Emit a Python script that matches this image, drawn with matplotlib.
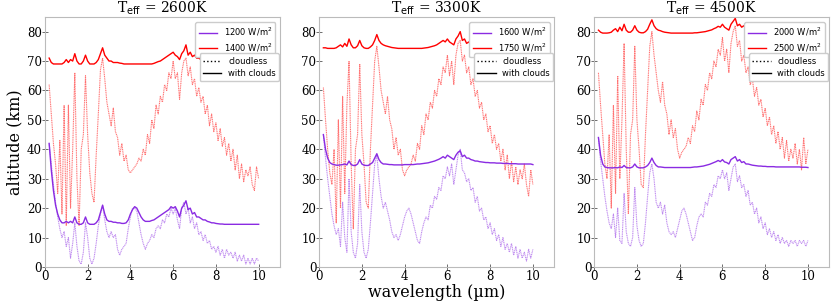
import numpy as np
import matplotlib
matplotlib.use('Agg')
from matplotlib import pyplot as plt
from matplotlib.lines import Line2D

# wavelength grid (micron), 0.2 .. 10.0
wl = np.round(np.arange(0.2, 10.05, 0.1), 2)

titles = ['2600K', '3300K', '4500K']
labels_purple = [r'1200 W/m$^2$', r'1600 W/m$^2$', r'2000 W/m$^2$']
labels_red = [r'1400 W/m$^2$', r'1750 W/m$^2$', r'2500 W/m$^2$']

# ---- Teff = 2600K ----
t2600_red_clear = [62, 52, 42, 35, 25, 43, 18, 55, 14, 55,
                   20, 40, 66, 30, 14, 40, 45, 65, 45, 32,
                   25, 22, 38, 52, 67, 71, 64, 56, 52, 48,
                   54, 46, 44, 38, 42, 36, 38, 33, 32, 33,
                   34, 35, 37, 36, 40, 38, 45, 42, 50, 47,
                   55, 52, 58, 56, 62, 60, 66, 64, 70, 64,
                   66, 57, 66, 70, 71, 65, 68, 62, 64, 58,
                   61, 56, 58, 52, 55, 48, 52, 46, 49, 43,
                   47, 41, 44, 38, 42, 36, 40, 33, 38, 30,
                   35, 29, 33, 31, 34, 28, 26, 34, 30]
t2600_red_cloud = [71, 69.5, 69, 69, 69, 69, 69, 69.5, 70.5, 69.5,
                   70.5, 70, 72.5, 70, 69, 69, 70, 72, 70, 69,
                   69, 69, 69.5, 70.5, 72.5, 74.5, 72, 71, 70, 70,
                   69.5, 69.5, 69.5, 69.3, 69.2, 69, 69, 69, 69, 69,
                   69, 69, 69, 69, 69, 69, 69, 69, 69, 69.2,
                   69.5, 69.8, 70, 70.5, 71, 71.5, 72, 72.5, 73, 72,
                   71.5, 70.5, 72.5, 73.5, 75.5, 72, 73, 71.5, 72, 71,
                   71, 70.5, 70.5, 70, 70, 69.5, 69.5, 69.5, 69.3, 69.2,
                   69.2, 69.1, 69.1, 69, 69, 69, 69, 69, 69, 69,
                   69, 69, 69, 69, 69, 69, 69, 69, 69]
t2600_purple_clear = [42, 35, 28, 22, 17, 13, 10, 12, 7, 10,
                      3, 8, 15, 7, 2, 1, 5, 15, 10, 3,
                      1, 3, 8, 14, 18, 21, 16, 12, 10, 12,
                      10, 11, 6, 4, 6, 7, 8, 13, 17, 20,
                      20, 19, 15, 11, 8, 6, 8, 9, 11, 10,
                      13, 14, 13, 16, 15, 18, 17, 20, 18, 20,
                      16, 13, 20, 22, 18, 20, 15, 17, 13, 15,
                      11, 12, 9, 11, 8, 9, 6, 7, 5, 7,
                      4, 6, 3, 6, 4, 5, 3, 5, 2, 4,
                      2, 4, 1, 3, 1, 3, 1, 3, 2]
t2600_purple_cloud = [42, 33, 26, 21, 18, 16, 15, 15, 15.5, 15,
                      15.5, 15, 17, 15, 14.5, 14.5, 15, 17, 15, 14.5,
                      14.5, 14.5, 15, 16, 18.5, 21, 18, 16, 15.5, 15.5,
                      15.2, 15.2, 15, 15, 14.8, 14.8, 15, 16, 18, 19.5,
                      20.5, 20, 18.5, 17, 16, 15.5, 15.5, 15.5, 15.8, 16,
                      16.5, 17, 17.5, 18, 18.5, 19, 19.5, 20.5, 20, 20.5,
                      19, 17, 20, 21, 22.5, 19.5, 20, 18, 18.5, 17,
                      17, 16.5, 16, 16, 15.5, 15.3, 15, 15, 14.8, 14.7,
                      14.6, 14.6, 14.5, 14.5, 14.5, 14.5, 14.5, 14.5, 14.5, 14.5,
                      14.5, 14.5, 14.5, 14.5, 14.5, 14.5, 14.5, 14.5, 14.5]

# ---- Teff = 3300K ----
t3300_red_clear = [61, 50, 40, 32, 28, 40, 15, 50, 20, 58,
                   25, 55, 70, 35, 13, 40, 45, 69, 45, 35,
                   22, 20, 40, 55, 70, 75, 68, 60, 56, 52,
                   58, 50, 47, 40, 44, 38, 40, 33, 31, 33,
                   34, 35, 38, 36, 42, 40, 48, 45, 52, 50,
                   56, 54, 60, 58, 64, 62, 68, 66, 72, 65,
                   70, 62, 72, 76, 77, 70, 72, 66, 68, 62,
                   64, 58, 60, 54, 56, 50, 52, 46, 48, 42,
                   45, 40, 42, 36, 40, 33, 38, 30, 36, 29,
                   34, 28, 33, 30, 35, 28, 24, 33, 28]
t3300_red_cloud = [74.5, 74.5, 74.3, 74.3, 74.3, 74.3, 74.5, 75, 75.5, 74.8,
                   76, 75, 77.5, 75.5, 74.5, 74.5, 75.2, 77, 75.2, 74.5,
                   74.3, 74.3, 74.8, 75.5, 77, 79, 77, 76, 75.5, 75.2,
                   75, 74.8, 74.6, 74.5, 74.4, 74.3, 74.3, 74.3, 74.3, 74.3,
                   74.3, 74.3, 74.3, 74.3, 74.3, 74.3, 74.3, 74.4, 74.5, 74.6,
                   74.8, 75, 75.2, 75.5, 76, 76.5, 77, 76.5, 77.5, 76.5,
                   76, 75.5, 77.5, 78.5, 80, 77, 77.5, 76, 76.5, 75.5,
                   75.5, 75.2, 75, 75, 74.8, 74.8, 74.7, 74.6, 74.6, 74.5,
                   74.5, 74.5, 74.5, 74.5, 74.5, 74.5, 74.5, 74.5, 74.5, 74.5,
                   74.5, 74.5, 74.5, 74.5, 74.5, 74.5, 74.5, 74.5, 74.5]
t3300_purple_clear = [45, 37, 30, 24, 18, 14, 11, 13, 7, 22,
                      10, 5, 30, 12, 5, 3, 8, 28, 12, 5,
                      3, 6, 15, 25, 35, 38, 30, 24, 20, 22,
                      19, 16, 12, 10, 11, 9, 11, 14, 17, 19,
                      20, 18, 15, 12, 9, 8, 12, 15, 17, 16,
                      21, 20, 24, 23, 27, 26, 31, 30, 34, 31,
                      35, 28, 33, 38, 40, 33, 32, 29, 30, 26,
                      27, 22, 24, 19, 20, 16, 17, 13, 15, 11,
                      13, 9, 11, 7, 10, 6, 8, 5, 8, 4,
                      7, 3, 6, 3, 5, 2, 6, 3, 6]
t3300_purple_cloud = [45, 40, 37, 35.5, 35, 34.8, 34.6, 34.6, 34.7, 34.8,
                      35, 34.7, 36, 34.8, 34.5, 34.5, 35, 36.5, 35, 34.6,
                      34.5, 34.5, 35, 35.5, 37, 38.5, 36.5, 35.5, 35, 35,
                      34.9, 34.8, 34.8, 34.7, 34.7, 34.7, 34.7, 34.7, 34.8, 34.8,
                      34.8, 34.8, 34.8, 34.9, 35, 35, 35.1, 35.2, 35.3, 35.4,
                      35.6, 35.8, 36, 36.3, 36.6, 37, 37.5, 37, 38, 37.5,
                      37, 36.5, 38, 39, 39.5, 37.5, 38, 37, 37, 36.5,
                      36.3, 36, 36, 35.8, 35.7, 35.6, 35.5, 35.5, 35.4, 35.4,
                      35.4, 35.3, 35.3, 35.3, 35.2, 35.2, 35.2, 35.1, 35.1, 35.1,
                      35.1, 35, 35, 35, 35, 35, 35, 35, 34.8]

# ---- Teff = 4500K ----
t4500_red_clear = [66, 55, 45, 35, 30, 45, 20, 55, 25, 65,
                   30, 50, 76, 40, 18, 45, 50, 75, 50, 40,
                   28, 27, 45, 60, 75, 80, 72, 66, 60, 56,
                   63, 55, 52, 45, 50, 44, 47, 40, 37, 39,
                   40, 41, 44, 42, 48, 46, 53, 50, 57, 55,
                   62, 60, 66, 64, 70, 68, 74, 72, 78, 70,
                   74, 66, 76, 80, 82, 75, 77, 70, 72, 66,
                   68, 62, 64, 58, 61, 55, 57, 51, 54, 48,
                   51, 45, 48, 42, 46, 40, 44, 37, 43, 36,
                   40, 37, 42, 35, 40, 33, 44, 35, 40]
t4500_red_cloud = [80.5, 79.8, 79.5, 79.5, 79.5, 79.6, 79.8, 80.5, 81, 80,
                   81.5, 80.3, 82.5, 80.5, 79.8, 79.8, 80.5, 82, 80.5, 79.8,
                   79.6, 79.6, 80, 80.8, 82.5, 84, 82, 81, 80.5, 80.3,
                   80, 79.8, 79.7, 79.6, 79.5, 79.5, 79.5, 79.5, 79.5, 79.5,
                   79.5, 79.5, 79.5, 79.5, 79.5, 79.6, 79.6, 79.7, 79.8, 79.9,
                   80, 80.2, 80.4, 80.6, 81, 81.3, 81.8, 81.5, 82.5, 81.5,
                   81, 80.5, 82.5, 83.5, 84.5, 82, 82.5, 81.5, 82, 81,
                   81, 80.7, 80.5, 80.4, 80.3, 80.2, 80.1, 80, 80, 80,
                   80, 80, 80, 80, 80, 80, 80, 80, 80, 80,
                   80, 80, 80, 80, 80, 80, 80, 80, 80]
t4500_purple_clear = [44, 36, 30, 24, 19, 15, 13, 18, 10, 20,
                      9, 8, 25, 12, 8, 7, 10, 27, 14, 9,
                      7, 8, 15, 24, 32, 35, 30, 22, 20, 22,
                      18, 21, 15, 12, 11, 12, 10, 13, 16, 19,
                      20, 18, 15, 12, 9, 10, 14, 17, 18, 17,
                      22, 21, 25, 24, 28, 27, 31, 30, 33, 30,
                      32, 26, 30, 34, 35, 29, 31, 27, 28, 24,
                      26, 21, 22, 18, 20, 15, 17, 13, 15, 11,
                      13, 10, 12, 9, 11, 8, 10, 8, 9, 7,
                      9, 8, 9, 7, 9, 8, 9, 7, 9]
t4500_purple_cloud = [44, 38, 35, 34, 33.8, 33.7, 33.7, 33.7, 33.8, 33.7,
                      34, 33.8, 34.5, 33.8, 33.7, 33.7, 34, 35, 34, 33.7,
                      33.7, 33.7, 34, 34.5, 35.5, 37, 35.5, 34.5, 34, 34,
                      33.9, 33.8, 33.8, 33.8, 33.8, 33.8, 33.8, 33.8, 33.8, 33.8,
                      33.8, 33.8, 33.8, 33.8, 33.9, 34, 34, 34.1, 34.2, 34.3,
                      34.5, 34.7, 34.9, 35.2, 35.5, 35.8, 36.2, 35.8, 36.5, 35.7,
                      35.5, 35, 36.5, 37, 37.5, 36, 36.5, 35.5, 35.8, 35,
                      35, 34.8, 34.6, 34.5, 34.4, 34.3, 34.3, 34.2, 34.2, 34.1,
                      34.1, 34.1, 34.1, 34, 34, 34, 34, 34, 34, 34,
                      34, 34, 34, 34, 34, 33.9, 33.9, 33.9, 33.8]

panels = [
    (t2600_purple_clear, t2600_purple_cloud, t2600_red_clear, t2600_red_cloud),
    (t3300_purple_clear, t3300_purple_cloud, t3300_red_clear, t3300_red_cloud),
    (t4500_purple_clear, t4500_purple_cloud, t4500_red_clear, t4500_red_cloud),
]

PURPLE = '#8a2be2'
RED = '#ff0000'

plt.rcParams['font.family'] = 'DejaVu Serif'
plt.rcParams['mathtext.fontset'] = 'dejavusans'

fig = plt.figure(figsize=(8.31, 3.02), dpi=100)
lefts = [0.054, 0.384, 0.715]

for i, (pc, pw, rc, rw) in enumerate(panels):
    ax = fig.add_axes([lefts[i], 0.116, 0.283, 0.828])
    ax.plot(wl, pc, ls=(0, (1, 0.6)), lw=0.8, color=PURPLE, alpha=0.55)
    ax.plot(wl, rc, ls=(0, (1, 0.6)), lw=0.8, color=RED, alpha=0.55)
    lp, = ax.plot(wl, pw, ls='-', lw=1.0, color=PURPLE, label=labels_purple[i])
    lr, = ax.plot(wl, rw, ls='-', lw=1.0, color=RED, label=labels_red[i])

    ax.set_xlim(0, 11)
    ax.set_ylim(0, 85)
    ax.set_xticks([0, 2, 4, 6, 8, 10])
    ax.set_yticks([0, 10, 20, 30, 40, 50, 60, 70, 80])
    ax.tick_params(labelsize=8.5, length=4, width=0.6, color='#555555',
                   direction='inout', pad=0)
    for s in ax.spines.values():
        s.set_color('#bbbbbb')
        s.set_linewidth(0.8)
    ax.set_title(r'T$_{\rm eff}$ = ' + titles[i], fontsize=10, pad=1.5)

    leg1 = ax.legend(handles=[lp, lr], loc='upper right', bbox_to_anchor=(0.98, 0.978),
                     borderaxespad=0, prop={'family': 'DejaVu Sans', 'size': 6},
                     framealpha=1, edgecolor='#cccccc', fancybox=True,
                     handlelength=2.2, borderpad=0.4, labelspacing=0.4)
    ax.add_artist(leg1)
    h2 = [Line2D([], [], color='black', ls=':', lw=1.0),
          Line2D([], [], color='black', ls='-', lw=1.0)]
    ax.legend(handles=h2, labels=['cloudless', 'with clouds'], loc='upper right',
              bbox_to_anchor=(0.996, 0.855), borderaxespad=0,
              prop={'family': 'DejaVu Sans', 'size': 6},
              framealpha=1, edgecolor='#cccccc', fancybox=True,
              handlelength=2.2, borderpad=0.4, labelspacing=0.4)

    if i == 0:
        ax.set_ylabel('altitude (km)', fontsize=11.5, labelpad=3)
    if i == 1:
        ax.set_xlabel('wavelength (µm)', fontsize=11.5, labelpad=1)

fig.savefig('out.png', dpi=100)
